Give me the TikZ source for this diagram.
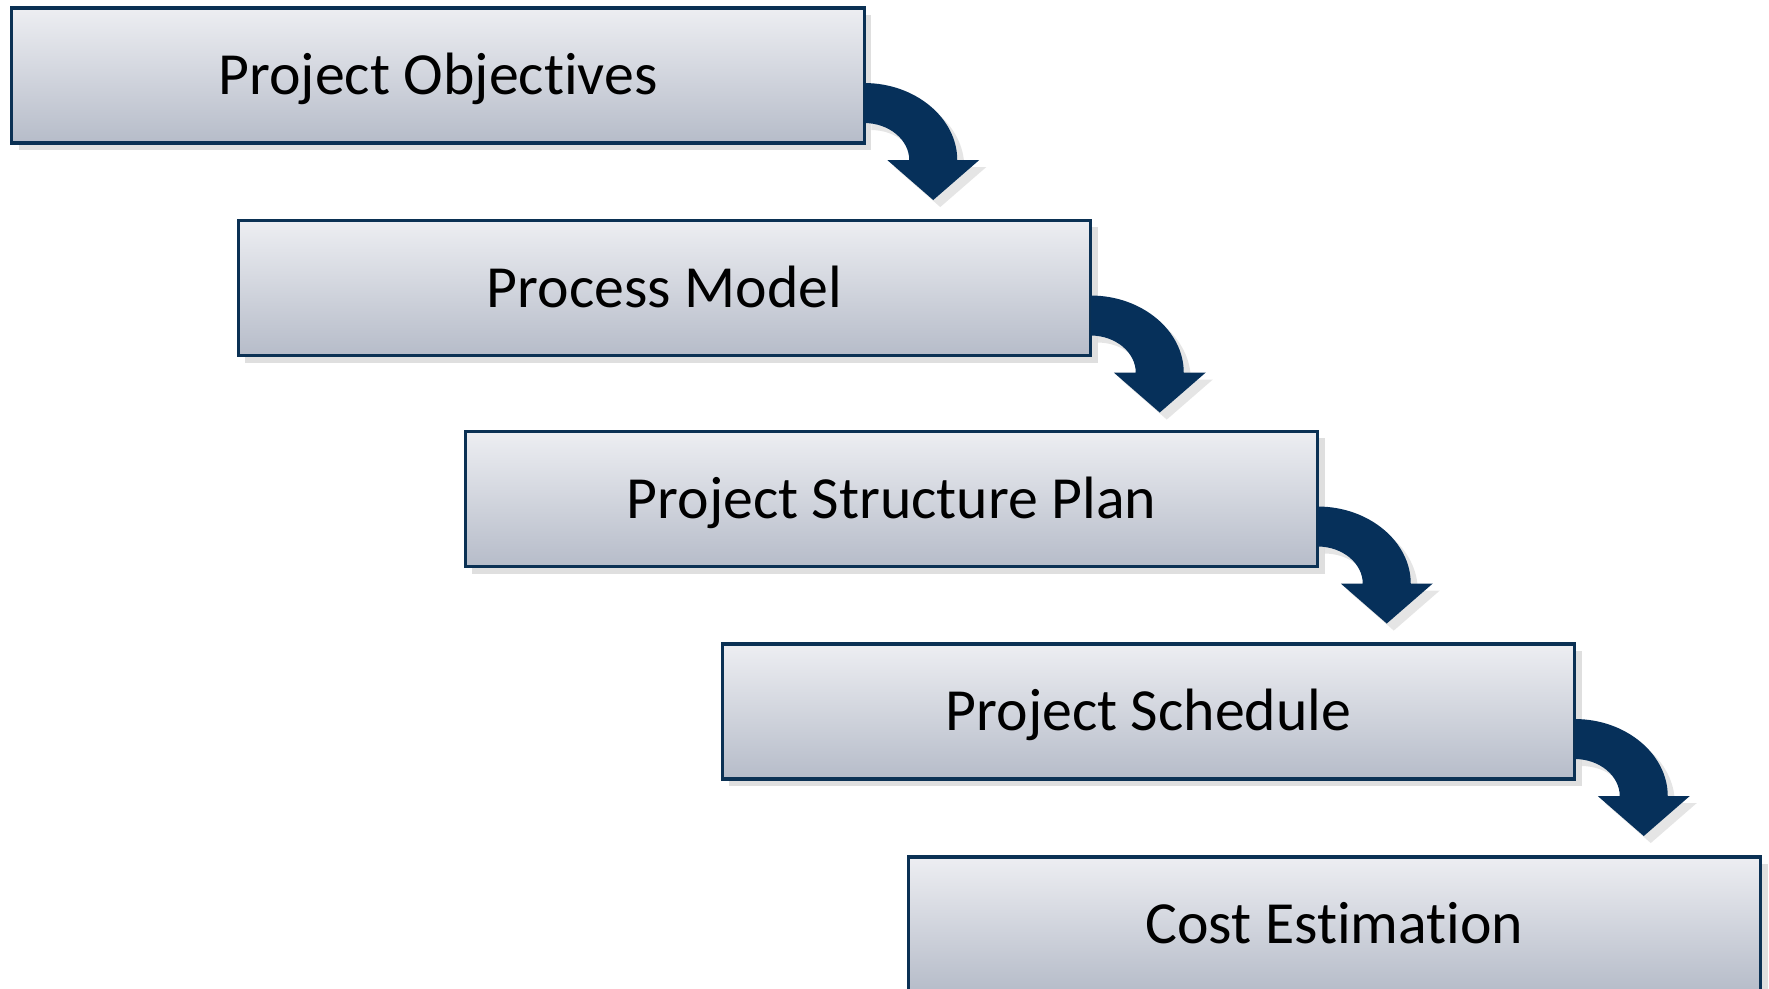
\documentclass[tikz,border=0pt]{standalone}
\usepackage{fontspec}
\setmainfont[Ligatures=NoCommon]{Carlito}
\usetikzlibrary{shadows}
\definecolor{boxtop}{HTML}{EDEEF2}
\definecolor{boxbot}{HTML}{B6BCC9}
\definecolor{navy}{HTML}{0B3154}
\definecolor{arrownavy}{HTML}{06305A}
\begin{document}
\begin{tikzpicture}[x=0.01cm,y=-0.01cm,
  stage/.style={rectangle,draw=navy,line width=0.9pt,top color=boxtop,bottom color=boxbot,
    minimum width=8.52cm,minimum height=1.35cm,inner sep=0pt,outer sep=0pt,
    font=\fontsize{17}{20}\selectfont,text height=11pt,text depth=0pt,
    drop shadow={shadow xshift=2pt,shadow yshift=-2pt,opacity=0.25}},
  turn/.style={fill=arrownavy,drop shadow={shadow xshift=2pt,shadow yshift=-2pt,opacity=0.2}}]
\clip (0,0) rectangle (1769,989);
\fill[white] (0,0) rectangle (1769,989);

\node (k1) at (438,75.5)[stage]{Project Objectives};
\node (k2) at (664.5,288)[stage]{Process Model};
\node (k3) at (891.5,499)[stage]{Project Structure Plan};
\node (k4) at (1148.5,711.5)[stage]{Project Schedule};
\node (k5) at (1334.5,924.5)[stage]{Cost Estimation};

% curved arrows from one step down to the next
\fill[turn,shift={(k1.south east)}] (0,-60) .. controls (51,-60) and (93,-25) .. (93,17) -- (115,17) -- (69,57) -- (23,17) -- (45,17) .. controls (45,-3) and (25,-20) .. (0,-20) -- cycle;
\fill[turn,shift={(k2.south east)}] (0,-60) .. controls (51,-60) and (93,-25) .. (93,17) -- (115,17) -- (69,57) -- (23,17) -- (45,17) .. controls (45,-3) and (25,-20) .. (0,-20) -- cycle;
\fill[turn,shift={(k3.south east)}] (0,-60) .. controls (51,-60) and (93,-25) .. (93,17) -- (115,17) -- (69,57) -- (23,17) -- (45,17) .. controls (45,-3) and (25,-20) .. (0,-20) -- cycle;
\fill[turn,shift={(k4.south east)}] (0,-60) .. controls (51,-60) and (93,-25) .. (93,17) -- (115,17) -- (69,57) -- (23,17) -- (45,17) .. controls (45,-3) and (25,-20) .. (0,-20) -- cycle;
\end{tikzpicture}
\end{document}
